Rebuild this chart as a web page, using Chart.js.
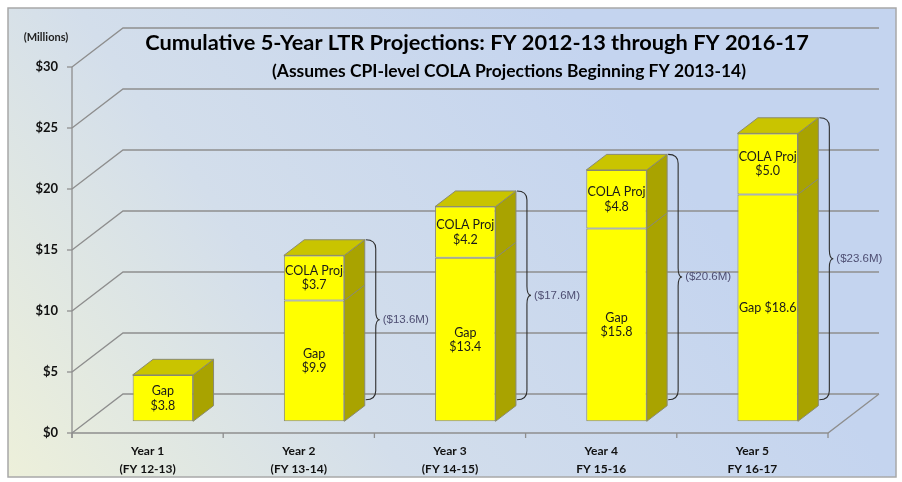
<!DOCTYPE html>
<html>
<head>
<meta charset="utf-8">
<script src="https://cdn.jsdelivr.net/npm/chart.js@4.4.0/dist/chart.umd.min.js"></script>
<style>
    html, body { margin: 0; padding: 0; background: #fff; }
    #wrap { width: 902px; height: 482px; position: relative; }
</style>
</head>
<body>
<div id="wrap"><canvas id="myChart"></canvas></div>
<script>
const years = ['Year 1', 'Year 2', 'Year 3', 'Year 4', 'Year 5']
const fiscalYears = ['(FY 12-13)', '(FY 13-14)', '(FY 14-15)', 'FY 15-16', 'FY 16-17']
const gapValues = [3.8, 9.9, 13.4, 15.8, 18.6]
const colaValues = [null, 3.7, 4.2, 4.8, 5.0]
const gapOneLine = [false, false, false, false, true]
const yTicks = [0, 5, 10, 15, 20, 25, 30]

const titleText = 'Cumulative 5-Year LTR Projections: FY 2012-13 through FY 2016-17'
const subtitleText = '(Assumes CPI-level COLA Projections Beginning FY 2013-14)'

// depth of the 3D box (back wall offset) and where the bars sit inside it
const depthX = 51
const depthY = -39
const barFront = 0.3
const barBack = 0.7

const gridColor = '#8e8e8e'
const ctx = document.getElementById('myChart')

const fitFont = (c, text, weight, family, width) => {
    c.font = `${weight} 20px ${family}`
    const size = 20 * width / c.measureText(text).width
    return `${weight} ${size.toFixed(2)}px ${family}`
}

const drawBrace = (c, x, y1, y2, w) => {
    const ym = (y1 + y2) / 2
    const r = 9
    c.beginPath()
    c.moveTo(x, y1)
    c.quadraticCurveTo(x + w, y1, x + w, y1 + r)
    c.lineTo(x + w, ym - r)
    c.quadraticCurveTo(x + w, ym, x + w + 4, ym)
    c.quadraticCurveTo(x + w, ym, x + w, ym + r)
    c.lineTo(x + w, y2 - r)
    c.quadraticCurveTo(x + w, y2, x, y2)
    c.stroke()
}

const box3d = {
    id: 'box3d',
    beforeDraw(chart) {
        const c = chart.ctx
        const area = chart.chartArea
        const yScale = chart.scales.y
        const xScale = chart.scales.x
        c.save()
        // frame
        c.fillStyle = '#fff'
        c.fillRect(0, 0, chart.width, chart.height)
        const g = c.createLinearGradient(8, 477, 600, 60)
        g.addColorStop(0, '#edf0da')
        g.addColorStop(0.45, '#d3deeb')
        g.addColorStop(1, '#c4d4ef')
        c.fillStyle = g
        c.fillRect(8, 8, 888, 469)
        c.strokeStyle = '#a8a8a8'
        c.lineWidth = 1.5
        c.strokeRect(8, 8, 888, 469)

        // back wall gridlines + left wall diagonals
        c.strokeStyle = gridColor
        c.lineWidth = 1.3
        yTicks.forEach((t) => {
            const y = yScale.getPixelForValue(t)
            c.beginPath()
            c.moveTo(area.left, y)
            c.lineTo(area.left + depthX, y + depthY)
            c.lineTo(area.right + depthX, y + depthY)
            c.stroke()
            c.beginPath()
            c.moveTo(area.left - 5, y)
            c.lineTo(area.left, y)
            c.stroke()
        })
        // floor front and right edges
        c.beginPath()
        c.moveTo(area.left, area.top)
        c.lineTo(area.left, area.bottom + 5)
        c.moveTo(area.left, area.bottom)
        c.lineTo(area.right, area.bottom)
        c.lineTo(area.right + depthX, area.bottom + depthY)
        c.stroke()
        // category ticks
        c.beginPath()
        for (let i = 0; i <= years.length; i++) {
            const x = area.left + i * (area.right - area.left) / years.length
            c.moveTo(x, area.bottom)
            c.lineTo(x, area.bottom + 5)
        }
        c.stroke()

        // y tick labels
        c.fillStyle = '#111'
        c.font = 'bold 13px Lato'
        c.textAlign = 'right'
        c.textBaseline = 'middle'
        yTicks.forEach((t) => {
            c.fillText('$' + t, area.left - 14, yScale.getPixelForValue(t))
        })
        c.font = 'bold 11px Lato'
        c.fillStyle = '#222'
        c.textAlign = 'center'
        c.fillText('(Millions)', 46, 37)

        // category labels
        c.font = 'bold 12px Lato'
        c.fillStyle = '#111'
        years.forEach((yr, i) => {
            const x = xScale.getPixelForValue(i)
            c.fillText(yr, x, 451)
            c.fillText(fiscalYears[i], x, 469)
        })

        // titles
        c.fillStyle = '#000'
        c.font = fitFont(c, titleText, 'bold', 'Lato', 664)
        c.fillText(titleText, 477, 43)
        c.font = fitFont(c, subtitleText, 'bold', 'Lato', 474)
        c.fillText(subtitleText, 509, 71)
        c.restore()
    },
    beforeDatasetsDraw(chart) {
        chart.ctx.save()
        chart.ctx.translate(depthX * barFront, depthY * barFront)
    },
    afterDatasetsDraw(chart) {
        const c = chart.ctx
        const bx = depthX * (barBack - barFront)
        const by = depthY * (barBack - barFront)
        const metas = [chart.getDatasetMeta(0), chart.getDatasetMeta(1)]
        c.lineWidth = 1
        c.strokeStyle = '#8a8a70'
        metas.forEach((meta, d) => {
            meta.data.forEach((el, i) => {
                const v = chart.data.datasets[d].data[i]
                if (v == null) return
                const xl = el.x - el.width / 2
                const xr = el.x + el.width / 2
                // side face
                c.fillStyle = '#a9a300'
                c.beginPath()
                c.moveTo(xr, el.y)
                c.lineTo(xr + bx, el.y + by)
                c.lineTo(xr + bx, el.base + by)
                c.lineTo(xr, el.base)
                c.closePath()
                c.fill()
                c.stroke()
                const isTop = d === 1 || colaValues[i] == null
                if (isTop) {
                    c.fillStyle = '#c9c400'
                    c.beginPath()
                    c.moveTo(xl, el.y)
                    c.lineTo(xl + bx, el.y + by)
                    c.lineTo(xr + bx, el.y + by)
                    c.lineTo(xr, el.y)
                    c.closePath()
                    c.fill()
                    c.stroke()
                }
                // value labels on the front face
                c.fillStyle = '#1a1a1a'
                c.font = '12.5px Lato'
                c.textAlign = 'center'
                c.textBaseline = 'middle'
                const cy = (el.y + el.base) / 2
                const name = d === 0 ? 'Gap' : 'COLA Proj'
                const val = '$' + v.toFixed(1)
                if (d === 0 && gapOneLine[i]) {
                    c.fillText(name + ' ' + val, el.x, cy)
                } else {
                    c.fillText(name, el.x, cy - 7)
                    c.fillText(val, el.x, cy + 7.5)
                }
            })
        })
        c.restore()
    },
    afterDraw(chart) {
        const c = chart.ctx
        const fx = depthX * barFront
        const fy = depthY * barFront
        const bx = depthX * (barBack - barFront)
        const by = depthY * (barBack - barFront)
        const gapMeta = chart.getDatasetMeta(0)
        const colaMeta = chart.getDatasetMeta(1)
        c.save()
        c.strokeStyle = '#2e2e2e'
        c.lineWidth = 1.1
        colaValues.forEach((v, i) => {
            if (v == null) return
            const top = colaMeta.data[i]
            const bottom = gapMeta.data[i]
            const x = top.x + top.width / 2 + fx + bx + 1
            const y1 = top.y + fy + by
            const y2 = bottom.base + fy + by - 6
            drawBrace(c, x, y1, y2, 10)
            const total = gapValues[i] + v
            c.fillStyle = '#4e4e72'
            c.font = '11.5px "Liberation Sans"'
            c.textAlign = 'left'
            c.textBaseline = 'middle'
            c.fillText('($' + total.toFixed(1) + 'M)', x + 17, (y1 + y2) / 2)
        })
        c.restore()
    }
}

const config = {
    type: 'bar',
    data: {
        labels: years,
        datasets: [
            {
                label: 'Gap',
                data: gapValues,
                backgroundColor: '#ffff00',
                borderColor: '#8a8a70',
                borderWidth: 1,
                borderSkipped: false,
            },
            {
                label: 'COLA Proj',
                data: colaValues,
                backgroundColor: '#ffff00',
                borderColor: '#8a8a70',
                borderWidth: 1,
                borderSkipped: false,
            },
        ],
    },
    options: {
        responsive: true,
        maintainAspectRatio: false,
        devicePixelRatio: 1,
        animation: false,
        clip: false,
        layout: { padding: { left: 72, top: 67, right: 74, bottom: 49 } },
        datasets: { bar: { categoryPercentage: 1, barPercentage: 0.4 } },
        scales: {
            x: { stacked: true, display: false },
            y: { stacked: true, display: false, min: 0, max: 30 },
        },
        plugins: {
            legend: { display: false },
            tooltip: { enabled: false },
        },
    },
    plugins: [box3d],
}

const myChart = new Chart(ctx, config)
</script>
</body>
</html>
